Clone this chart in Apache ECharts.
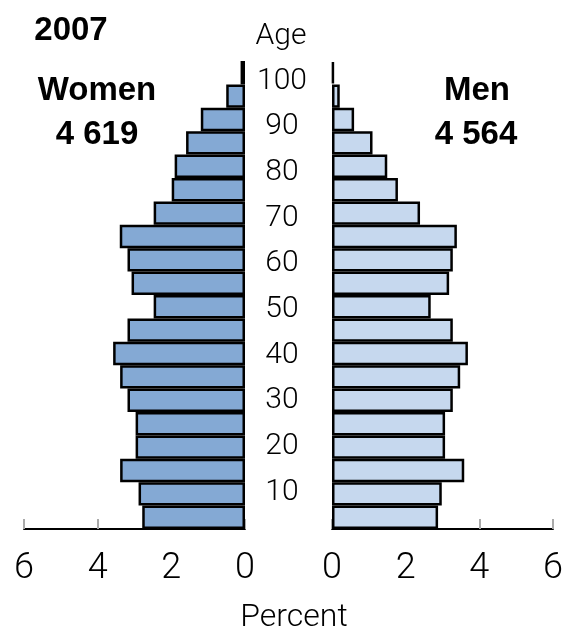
<!DOCTYPE html>
<html>
<head>
<meta charset="utf-8">
<script src="https://cdn.jsdelivr.net/npm/echarts@6/dist/echarts.min.js"></script>
<style>html,body{margin:0;padding:0;background:#fff}#c{width:570px;height:636px}</style>
</head>
<body>
<div id="c"></div>
<script>
// Age groups, bottom (youngest) to top (oldest)
const ageGroups = ['1-5','6-10','11-15','16-20','21-25','26-30','31-35','36-40','41-45','46-50',
                   '51-55','56-60','61-65','66-70','71-75','76-80','81-85','86-90','91-95','96-100'];
// Percent of population per age group
const women = [2.79, 2.89, 3.39, 2.97, 2.97, 3.19, 3.39, 3.58, 3.19, 2.48,
               3.08, 3.19, 3.40, 2.48, 1.99, 1.91, 1.60, 1.20, 0.51, 0.12];
const men   = [2.88, 2.98, 3.59, 3.07, 3.07, 3.28, 3.48, 3.69, 3.28, 2.68,
               3.18, 3.28, 3.39, 2.39, 1.79, 1.50, 1.10, 0.60, 0.21, 0.05];
const percentTicks = [0, 2, 4, 6];
const ageTicks = [10, 20, 30, 40, 50, 60, 70, 80, 90, 100];
const title = '2007';
const womenLabel = 'Women', womenTotal = '4 619';
const menLabel = 'Men', menTotal = '4 564';

const thin = 'Roboto';
const chart = echarts.init(document.getElementById('c'));
const xCommon = (inverse) => ({
  type: 'value', min: 0, max: 6, interval: 2, inverse: inverse,
  axisLine: {show: true, lineStyle: {color: '#000', width: 2}},
  axisTick: {show: true, inside: true, length: 10, lineStyle: {color: '#aaa', width: 2}},
  axisLabel: {fontFamily: thin, fontWeight: 300, fontSize: 36, color: '#000', margin: 22,
              formatter: v => percentTicks.includes(v) ? String(v) : ''},
  splitLine: {show: false}
});
chart.setOption({
  animation: false,
  grid: [
    {left: 24, top: 61, width: 221, height: 468},
    {left: 332, top: 61, width: 221, height: 468},
    {left: 24, top: 81, width: 221, height: 456.7}
  ],
  xAxis: [
    Object.assign({gridIndex: 0}, xCommon(true)),
    Object.assign({gridIndex: 1}, xCommon(false)),
    {type: 'value', gridIndex: 2, min: 0, max: 1, show: false}
  ],
  yAxis: [
    {type: 'category', gridIndex: 0, data: ageGroups,
     axisLine: {show: false}, axisTick: {show: false}, axisLabel: {show: false}},
    {type: 'category', gridIndex: 1, data: ageGroups,
     axisLine: {show: false}, axisTick: {show: false}, axisLabel: {show: false}},
    {type: 'value', gridIndex: 2, min: 0, max: 100, interval: 10, position: 'right',
     axisLine: {show: false}, axisTick: {show: false}, splitLine: {show: false},
     axisLabel: {show: true, align: 'center', margin: 37,
                 fontFamily: thin, fontWeight: 300, fontSize: 30, color: '#000',
                 formatter: v => ageTicks.includes(v) ? String(v) : ''}}
  ],
  series: [
    {type: 'bar', xAxisIndex: 0, yAxisIndex: 0, data: women, barCategoryGap: 0,
     itemStyle: {color: '#84a9d4', borderColor: '#000', borderWidth: 2.5}},
    {type: 'bar', xAxisIndex: 1, yAxisIndex: 1, data: men, barCategoryGap: 0,
     itemStyle: {color: '#c6d8ee', borderColor: '#000', borderWidth: 2.5}},
    {type: 'line', xAxisIndex: 2, yAxisIndex: 2, data: [], silent: true}
  ],
  graphic: [
    {type: 'text', x: 71, y: 31, style: {text: title, font: 'bold 33px "Liberation Sans", Arial', fill: '#000', align: 'center', verticalAlign: 'middle'}},
    {type: 'text', x: 97, y: 91, style: {text: womenLabel, font: 'bold 33px "Liberation Sans", Arial', fill: '#000', align: 'center', verticalAlign: 'middle'}},
    {type: 'text', x: 97, y: 135, style: {text: womenTotal, font: 'bold 33px "Liberation Sans", Arial', fill: '#000', align: 'center', verticalAlign: 'middle'}},
    {type: 'text', x: 477, y: 91, style: {text: menLabel, font: 'bold 33px "Liberation Sans", Arial', fill: '#000', align: 'center', verticalAlign: 'middle'}},
    {type: 'text', x: 476, y: 135, style: {text: menTotal, font: 'bold 33px "Liberation Sans", Arial', fill: '#000', align: 'center', verticalAlign: 'middle'}},
    {type: 'text', x: 281, y: 36, style: {text: 'Age', font: '300 30px Roboto', fill: '#000', align: 'center', verticalAlign: 'middle'}},
    {type: 'text', x: 294, y: 618, style: {text: 'Percent', font: '300 32px Roboto', fill: '#000', align: 'center', verticalAlign: 'middle'}}
  ]
});
</script>
</body>
</html>
